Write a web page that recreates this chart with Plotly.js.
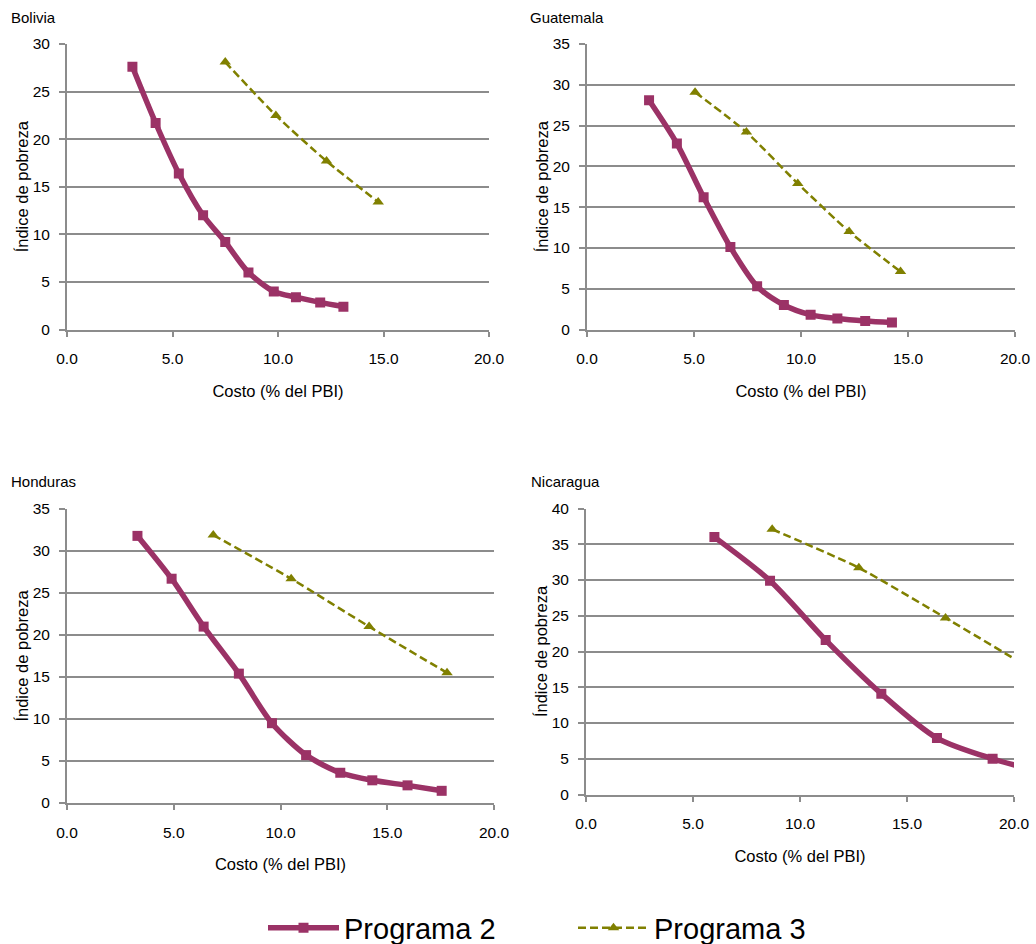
<!DOCTYPE html>
<html>
<head>
<meta charset="utf-8">
<script src="https://cdn.plot.ly/plotly-3.0.1.min.js"></script>
<style>html,body{margin:0;padding:0;background:#fff;}#chart{width:1036px;height:944px;}</style>
</head>
<body>
<div id="chart"></div>
<script>
// ---- Data ----
const countries = ["Bolivia", "Guatemala", "Honduras", "Nicaragua"];

const boliviaP2x = [3.1, 4.2, 5.3, 6.45, 7.5, 8.6, 9.8, 10.85, 12.0, 13.1];
const boliviaP2y = [27.6, 21.7, 16.4, 12.0, 9.2, 6.0, 4.0, 3.4, 2.85, 2.4];
const boliviaP3x = [7.5, 9.9, 12.3, 14.75];
const boliviaP3y = [28.1, 22.5, 17.7, 13.4];

const guatemalaP2x = [2.9, 4.2, 5.45, 6.7, 7.95, 9.2, 10.45, 11.7, 13.0, 14.25];
const guatemalaP2y = [28.1, 22.8, 16.2, 10.1, 5.3, 3.0, 1.8, 1.35, 1.05, 0.85];
const guatemalaP3x = [5.05, 7.45, 9.85, 12.25, 14.65];
const guatemalaP3y = [29.1, 24.2, 17.9, 12.0, 7.1];

const hondurasP2x = [3.3, 4.9, 6.4, 8.05, 9.6, 11.2, 12.8, 14.3, 15.95, 17.55];
const hondurasP2y = [31.8, 26.7, 21.0, 15.4, 9.5, 5.7, 3.6, 2.7, 2.1, 1.45];
const hondurasP3x = [6.85, 10.5, 14.15, 17.8];
const hondurasP3y = [31.9, 26.7, 21.0, 15.5];

const nicaraguaP2x = [6.0, 8.6, 11.2, 13.8, 16.4, 19.0, 21.6];
const nicaraguaP2y = [36.0, 29.9, 21.6, 14.1, 7.9, 5.0, 2.9];
const nicaraguaP3x = [8.7, 12.75, 16.8, 20.9];
const nicaraguaP3y = [37.1, 31.7, 24.7, 17.4];

const yMax = [30, 35, 35, 40];
const seriesNames = ["Programa 2", "Programa 3"];
const xTickVals = [0, 5, 10, 15, 20];
const xTickText = ["0.0", "5.0", "10.0", "15.0", "20.0"];
const xTitle = "Costo (% del PBI)";
const yTitle = "Índice de pobreza";

// ---- Styling ----
const c2 = "#9B3266";
const c3 = "#808000";
const grid = "#8C8C8C";
const FONT = "Liberation Sans, Arial, sans-serif";
const W = 1036, H = 944;

const P2x = [boliviaP2x, guatemalaP2x, hondurasP2x, nicaraguaP2x];
const P2y = [boliviaP2y, guatemalaP2y, hondurasP2y, nicaraguaP2y];
const P3x = [boliviaP3x, guatemalaP3x, hondurasP3x, nicaraguaP3x];
const P3y = [boliviaP3y, guatemalaP3y, hondurasP3y, nicaraguaP3y];

// plot-area pixel boxes [left, right, top, bottom]
const boxes = [
  [67, 489, 44, 329.5],
  [587, 1015, 44, 329.5],
  [67, 494, 509, 803],
  [586, 1014, 508.5, 794.5]
];
const titlePos = [[9, 18], [528, 18], [9, 481], [529, 481]];

const traces = [];
const layout = {
  width: W, height: H,
  margin: {l: 0, r: 0, t: 0, b: 0, autoexpand: false},
  paper_bgcolor: "#fff", plot_bgcolor: "#fff",
  font: {family: FONT, color: "#000", size: 15},
  showlegend: true,
  legend: {
    orientation: "h", x: 263 / W, xanchor: "left", y: 1 - 928 / H, yanchor: "middle",
    font: {size: 29, family: FONT, color: "#000"},
    itemwidth: 71, entrywidth: 224, tracegroupgap: 0
  },
  annotations: []
};

for (let i = 0; i < 4; i++) {
  const ax = i === 0 ? "" : String(i + 1);
  const [l, r, t, b] = boxes[i];
  traces.push({
    x: P2x[i], y: P2y[i], xaxis: "x" + ax, yaxis: "y" + ax,
    type: "scatter", mode: "lines+markers", name: seriesNames[0],
    legendgroup: "p2", showlegend: i === 0,
    line: {color: c2, width: 5.5, shape: "spline", smoothing: 0.8},
    marker: {symbol: "square", size: 10, color: c2}
  });
  traces.push({
    x: P3x[i], y: P3y[i], xaxis: "x" + ax, yaxis: "y" + ax,
    type: "scatter", mode: "lines+markers", name: seriesNames[1],
    legendgroup: "p3", showlegend: i === 0,
    line: {color: c3, width: 2.5, dash: "8px,4px", shape: "spline", smoothing: 0.6},
    marker: {symbol: "triangle-up", size: 10, color: c3}
  });
  layout["xaxis" + ax] = {
    domain: [l / W, r / W], anchor: "y" + ax,
    range: [0, 20], tickvals: xTickVals, ticktext: xTickText,
    showgrid: false, zeroline: false,
    showline: true, linecolor: grid, linewidth: 2,
    ticks: "outside", ticklen: 5, tickwidth: 2, tickcolor: grid,
    ticklabelstandoff: 9,
    tickfont: {size: 15.5, family: FONT, color: "#000"},
    title: {text: xTitle, font: {size: 16.5, family: FONT, color: "#000"}, standoff: 19},
    automargin: false,
    fixedrange: true
  };
  layout["yaxis" + ax] = {
    domain: [1 - b / H, 1 - t / H], anchor: "x" + ax,
    range: [0, yMax[i]], dtick: 5, tick0: 0,
    showgrid: true, gridcolor: grid, gridwidth: 2,
    zeroline: false,
    showline: true, linecolor: grid, linewidth: 2,
    ticks: "outside", ticklen: 6, tickwidth: 2, tickcolor: grid,
    ticklabelstandoff: 6,
    tickfont: {size: 15.5, family: FONT, color: "#000"},
    title: {text: yTitle, font: {size: 16.5, family: FONT, color: "#000"}, standoff: 0},
    automargin: false,
    fixedrange: true
  };
  layout.annotations.push({
    text: countries[i], xref: "paper", yref: "paper",
    x: titlePos[i][0] / W, y: 1 - titlePos[i][1] / H,
    xanchor: "left", yanchor: "middle", showarrow: false,
    font: {size: 15, family: FONT, color: "#000"}
  });
}

Plotly.newPlot("chart", traces, layout, {displayModeBar: false, staticPlot: true});
</script>
</body>
</html>
